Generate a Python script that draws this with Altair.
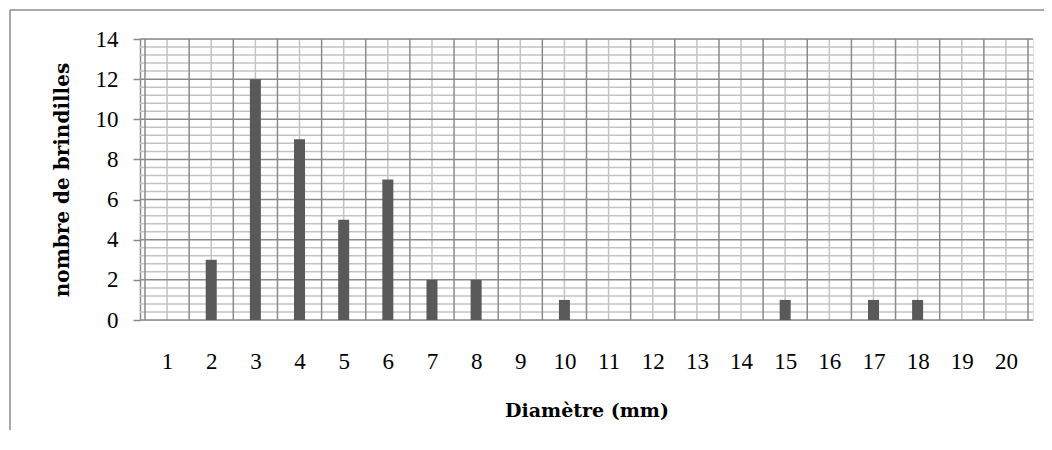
import altair as alt
import pandas as pd

# ---- data ----
categories = ["1", "2", "3", "4", "5", "6", "7", "8", "9", "10",
              "11", "12", "13", "14", "15", "16", "17", "18", "19", "20"]
counts = [0, 3, 12, 9, 5, 7, 2, 2, 0, 1, 0, 0, 0, 0, 1, 0, 1, 1, 0, 0]
y_major_ticks = [0, 2, 4, 6, 8, 10, 12, 14]

n = len(categories)
df = pd.DataFrame({"pos": list(range(1, n + 1)), "cat": categories, "count": counts})

# grid positions (styling only)
v_major = pd.DataFrame({"pos": [i + 0.5 for i in range(0, n + 1)]})
v_minor = pd.DataFrame({"pos": [i for i in range(1, n + 1)]})
h_major = pd.DataFrame({"count": y_major_ticks})
h_minor = pd.DataFrame({"count": [round(k * 0.4, 1) for k in range(1, 35) if k % 5 != 0]})

W, H = 893, 281
PAD = {"left": 132, "top": 31, "right": 11, "bottom": 110}

xscale = alt.Scale(domain=[0.5, n + 0.5], nice=False, zero=False)
yscale = alt.Scale(domain=[0, 14], nice=False)

MAJOR = "#8a8a8a"
MINOR = "#c3c3c3"
LABEL_FONT = "Liberation Serif"
TITLE_FONT = "DejaVu Serif"

xaxis = alt.Axis(
    values=list(range(1, n + 1)),
    labelExpr="datum.value",
    ticks=False,
    domain=False,
    grid=False,
    labelFont=LABEL_FONT,
    labelFontSize=23,
    labelColor="#000000",
    labelPadding=30,
    title="Diamètre (mm)",
    titleFont=TITLE_FONT,
    titleFontSize=19,
    titleFontWeight="bold",
    titleColor="#000000",
    titlePadding=28,
)
yaxis = alt.Axis(
    values=y_major_ticks,
    grid=False,
    tickSize=7,
    tickColor=MAJOR,
    tickWidth=1.5,
    domainColor=MAJOR,
    domainWidth=1.5,
    labelFont=LABEL_FONT,
    labelFontSize=23,
    labelColor="#000000",
    labelPadding=15,
    title="nombre de brindilles",
    titleFont=TITLE_FONT,
    titleFontSize=20,
    titleFontWeight="bold",
    titleColor="#000000",
    titlePadding=23,
)

vminor = alt.Chart(v_minor).mark_rule(color=MINOR, strokeWidth=1.5).encode(
    x=alt.X("pos:Q", scale=xscale, axis=xaxis)
)
hminor = alt.Chart(h_minor).mark_rule(color=MINOR, strokeWidth=1.5).encode(
    y=alt.Y("count:Q", scale=yscale, axis=yaxis)
)
vmajor = alt.Chart(v_major).mark_rule(color=MAJOR, strokeWidth=1.5).encode(
    x=alt.X("pos:Q", scale=xscale, axis=xaxis)
)
hmajor = alt.Chart(h_major).mark_rule(color=MAJOR, strokeWidth=1.5).encode(
    y=alt.Y("count:Q", scale=yscale, axis=yaxis)
)

dummy = pd.DataFrame({"d": [0]})
border_top = alt.Chart(dummy).mark_rule(color="#8c8c8c", strokeWidth=1.5).encode(
    x=alt.value(-130), x2=alt.value(W + 30), y=alt.value(-29)
)
border_left = alt.Chart(dummy).mark_rule(color="#8c8c8c", strokeWidth=1.5).encode(
    x=alt.value(-130), y=alt.value(-29), y2=alt.value(H + 140)
)

bars = alt.Chart(df).mark_bar(size=11, color="#595959").encode(
    x=alt.X("pos:Q", scale=xscale, axis=xaxis),
    y=alt.Y("count:Q", scale=yscale, axis=yaxis),
)

chart = (
    alt.layer(hminor, vminor, hmajor, vmajor, border_top, border_left, bars)
    .properties(width=W, height=H, autosize=alt.AutoSizeParams(type="none"), padding=PAD)
    .configure_view(stroke=None)
    .configure(background="white")
)

chart.save("out.html", embed_options={"renderer": "svg", "actions": False})
